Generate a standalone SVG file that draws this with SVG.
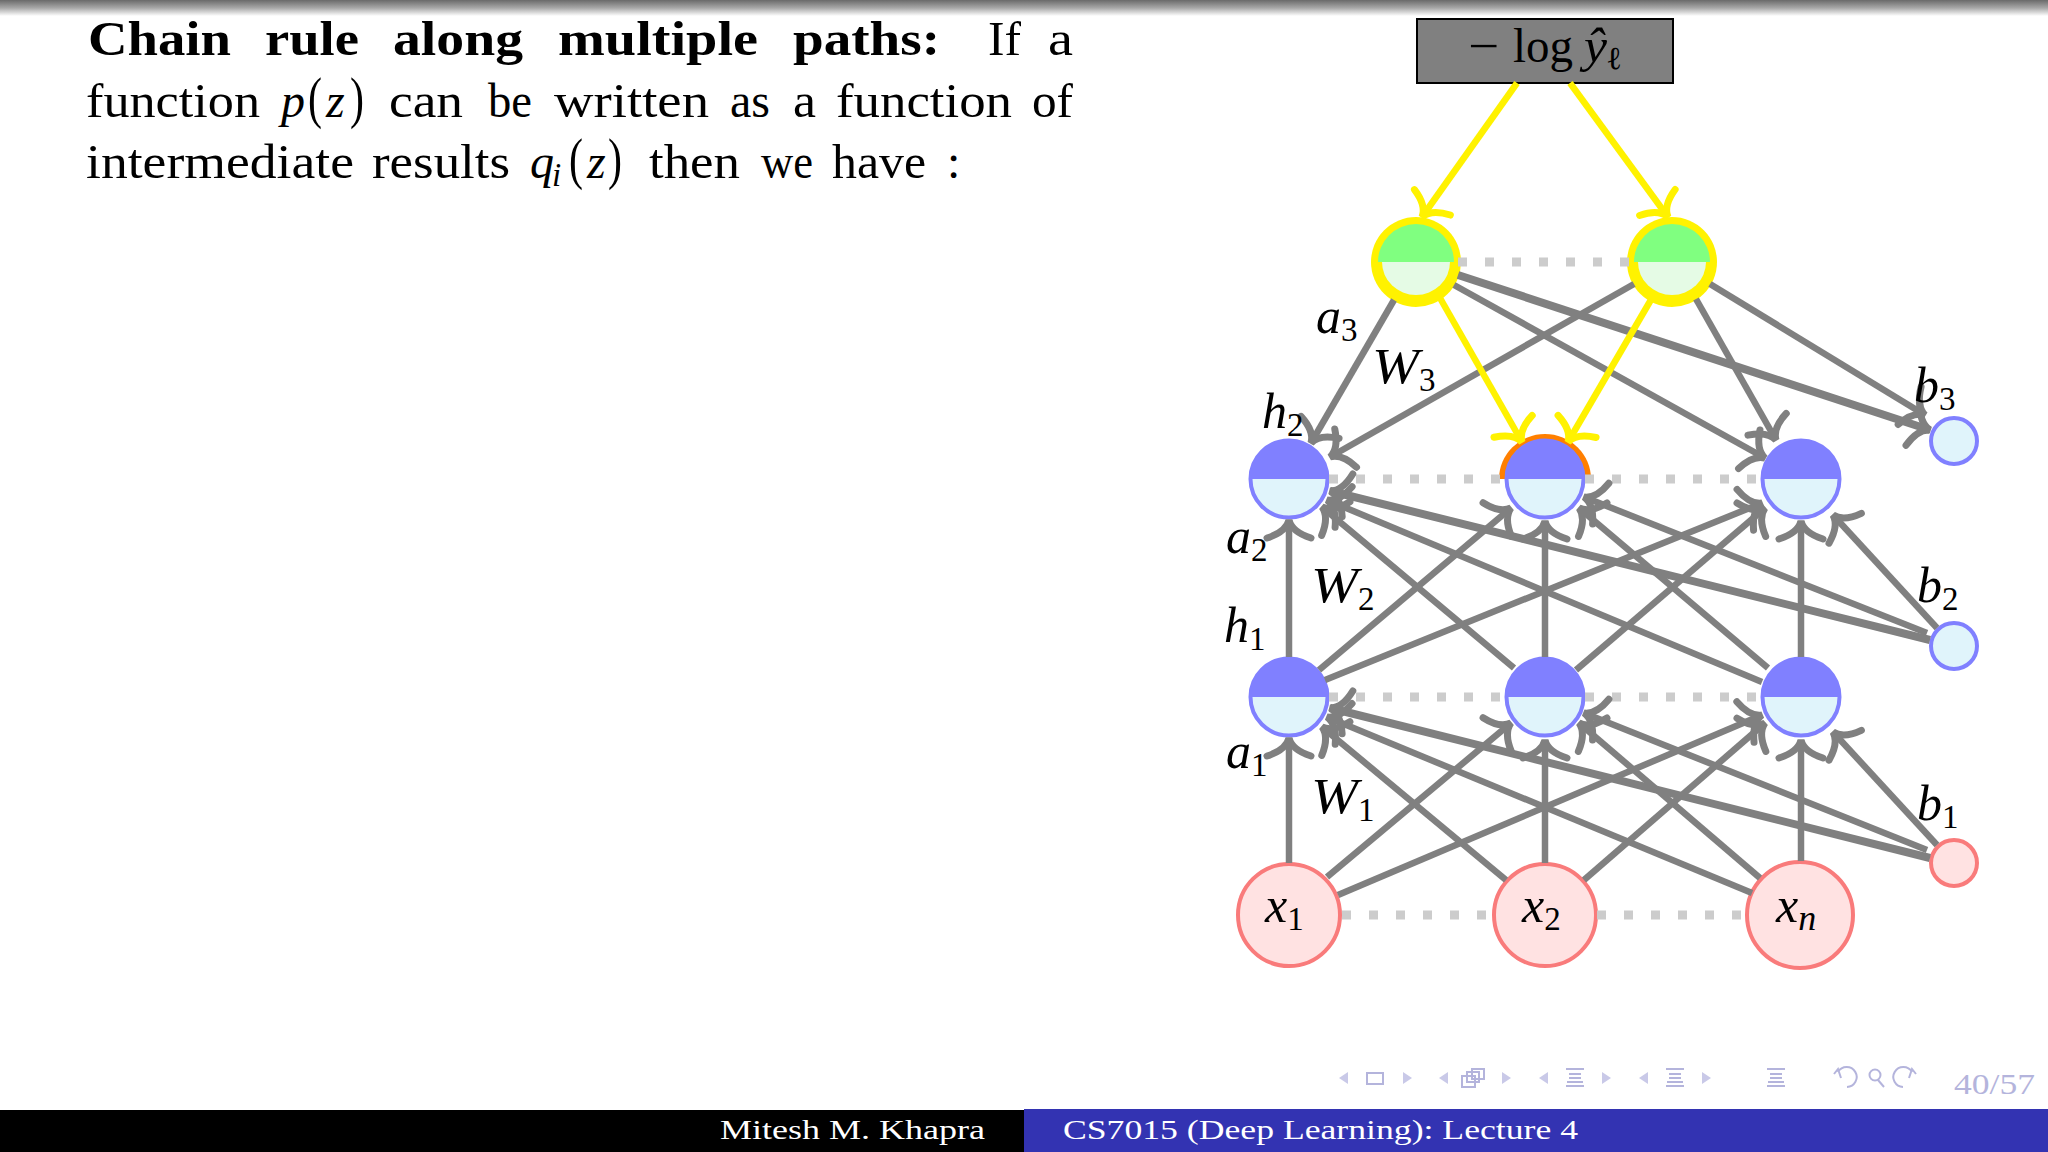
<svg xmlns="http://www.w3.org/2000/svg" width="2048" height="1152" viewBox="0 0 2048 1152">
<style>
text{font-family:"Liberation Serif","Times New Roman",serif;fill:#000}
.body{font-size:48px}
.m{font-style:italic}
.pr{font-size:56px;font-style:normal}
.lab{font-size:50px;font-style:italic}
.sub{font-size:33px;font-style:normal}
.subi{font-size:36px;font-style:italic}
.e{fill:none;stroke:#808080;stroke-width:6.5;marker-end:url(#ag)}
.t{stroke-width:8}
.y{fill:none;stroke:#fff200;stroke-width:6.5;marker-end:url(#ay)}
.d{fill:none;stroke:#cccccc;stroke-width:9;stroke-dasharray:9 18}
.hT{fill:#8080ff}.hB{fill:#e0f4fb}.hS{fill:none;stroke:#8080ff;stroke-width:4}
.pk{fill:#ffe2e2;stroke:#f97b7b;stroke-width:4}
.nv{fill:#c9c9e8}.nl{fill:none;stroke:#b4b4dc;stroke-width:2}.nb{fill:#b4b4dc}
.ft{font-size:27px;fill:#fff}
</style>
<defs>
<linearGradient id="top" x1="0" y1="0" x2="0" y2="1"><stop offset="0" stop-color="#6a6a6a"/><stop offset="0.5" stop-color="#a8a8a8"/><stop offset="1" stop-color="#ffffff"/></linearGradient>
<marker id="ag" markerUnits="userSpaceOnUse" markerWidth="60" markerHeight="60" viewBox="-40 -30 60 60" refX="0" refY="0" orient="auto"><path d="M-18,-22 Q-12,-3 0,0 Q-12,3 -18,22" fill="none" stroke="#808080" stroke-width="7" stroke-linecap="round"/></marker>
<marker id="ay" markerUnits="userSpaceOnUse" markerWidth="60" markerHeight="60" viewBox="-40 -30 60 60" refX="0" refY="0" orient="auto"><path d="M-18,-22 Q-12,-3 0,0 Q-12,3 -18,22" fill="none" stroke="#fff200" stroke-width="7" stroke-linecap="round"/></marker>
<g id="hn"><path class="hT" d="M-39,0 A39,39 0 0 1 39,0 Z"/><path class="hB" d="M-39,0 A39,39 0 0 0 39,0 Z"/><circle class="hS" r="38.5"/></g>
<g id="gn"><circle r="45" fill="#fff200"/><path d="M-38,0 A38,38 0 0 1 38,0 Z" fill="#80ff80"/><path d="M-34,0 A34,33 0 0 0 34,0 Z" fill="#e5fbe5"/></g>
<path id="tl" class="nv" d="M9,-6 L0,0 L9,6 Z"/>
<path id="tr" class="nv" d="M0,-6 L9,0 L0,6 Z"/>
<g id="ls"><path class="nb" d="M0,0h18v2h-18zM3,5h12v2h-12zM3,9h12v2h-12zM1,13h16v2h-16zM0,17h18v2h-18z"/></g>
</defs>
<rect width="2048" height="1152" fill="#fff"/>
<rect width="2048" height="16" fill="url(#top)"/>

<g id="slide-text">
<text class="body" y="55" font-weight="bold"><tspan x="88" textLength="143" lengthAdjust="spacingAndGlyphs">Chain</tspan> <tspan x="265" textLength="94" lengthAdjust="spacingAndGlyphs">rule</tspan> <tspan x="393" textLength="130" lengthAdjust="spacingAndGlyphs">along</tspan> <tspan x="558" textLength="200" lengthAdjust="spacingAndGlyphs">multiple</tspan> <tspan x="793" textLength="147" lengthAdjust="spacingAndGlyphs">paths:</tspan> <tspan x="988" font-weight="normal" textLength="33" lengthAdjust="spacingAndGlyphs">If</tspan> <tspan x="1048" font-weight="normal" textLength="25" lengthAdjust="spacingAndGlyphs">a</tspan></text>
<text class="body" y="117"><tspan x="86" textLength="174" lengthAdjust="spacingAndGlyphs">function</tspan> <tspan x="281" class="m">p</tspan><tspan x="308" class="pr" textLength="14" lengthAdjust="spacingAndGlyphs">(</tspan><tspan x="326" class="m">z</tspan><tspan x="350" class="pr" textLength="14" lengthAdjust="spacingAndGlyphs">)</tspan> <tspan x="389" textLength="74" lengthAdjust="spacingAndGlyphs">can</tspan> <tspan x="488" textLength="44" lengthAdjust="spacingAndGlyphs">be</tspan> <tspan x="554" textLength="155" lengthAdjust="spacingAndGlyphs">written</tspan> <tspan x="730" textLength="40" lengthAdjust="spacingAndGlyphs">as</tspan> <tspan x="793" textLength="23" lengthAdjust="spacingAndGlyphs">a</tspan> <tspan x="836" textLength="176" lengthAdjust="spacingAndGlyphs">function</tspan> <tspan x="1032" textLength="41" lengthAdjust="spacingAndGlyphs">of</tspan></text>
<text class="body" y="178"><tspan x="86" textLength="268" lengthAdjust="spacingAndGlyphs">intermediate</tspan> <tspan x="372" textLength="138" lengthAdjust="spacingAndGlyphs">results</tspan> <tspan x="530" class="m">q</tspan><tspan x="552" y="186" class="m" font-size="33">i</tspan><tspan x="569" y="178" class="pr" textLength="14" lengthAdjust="spacingAndGlyphs">(</tspan><tspan x="587" class="m">z</tspan><tspan x="608" class="pr" textLength="14" lengthAdjust="spacingAndGlyphs">)</tspan> <tspan x="649" textLength="91" lengthAdjust="spacingAndGlyphs">then</tspan> <tspan x="761" textLength="52" lengthAdjust="spacingAndGlyphs">we</tspan> <tspan x="832" textLength="94" lengthAdjust="spacingAndGlyphs">have</tspan> <tspan x="947">:</tspan></text>
</g>

<g id="nodes">
<g id="loss"><rect x="1417" y="19" width="256" height="64" fill="#808080" stroke="#000" stroke-width="2"/><text class="body" y="62"><tspan x="1468" textLength="31" lengthAdjust="spacingAndGlyphs">−</tspan> <tspan x="1513" textLength="60" lengthAdjust="spacingAndGlyphs">log</tspan> <tspan x="1584" class="m" textLength="23" lengthAdjust="spacingAndGlyphs">ŷ</tspan><tspan x="1606" y="69" font-size="32" font-family="'DejaVu Serif',serif" textLength="16" lengthAdjust="spacingAndGlyphs">ℓ</tspan></text></g>
<g id="o1"><use href="#gn" x="1416" y="262"/></g>
<g id="o2"><use href="#gn" x="1672" y="262"/></g>
<g id="h2a"><use href="#hn" x="1289" y="479"/></g>
<g id="h2b"><path d="M1499,479 A46,45 0 0 1 1591,479 Z" fill="#ff7f00"/><use href="#hn" x="1545" y="479"/></g>
<g id="h2c"><use href="#hn" x="1801" y="479"/></g>
<g id="h1a"><use href="#hn" x="1289" y="697"/></g>
<g id="h1b"><use href="#hn" x="1545" y="697"/></g>
<g id="h1c"><use href="#hn" x="1801" y="697"/></g>
<g id="b3"><circle class="hB" cx="1954" cy="441" r="23"/><circle class="hS" cx="1954" cy="441" r="23"/></g>
<g id="b2"><circle class="hB" cx="1954" cy="646" r="23"/><circle class="hS" cx="1954" cy="646" r="23"/></g>
<g id="b1"><circle class="pk" cx="1954" cy="863" r="23"/></g>
<g id="x1"><circle class="pk" cx="1289" cy="915" r="51"/></g>
<g id="x2"><circle class="pk" cx="1545" cy="915" r="51"/></g>
<g id="xn"><circle class="pk" cx="1800" cy="915" r="53"/></g>
</g>

<g id="connectors">
<path class="d" d="M1329,479H1505M1585,479H1761"/>
<path class="d" d="M1329,697H1505M1585,697H1761"/>
<path class="d" d="M1342,915H1490M1597,915H1745"/>
<path class="d" d="M1458,262H1630"/>

<path class="e" d="M1289,863V738"/>
<path class="e" d="M1327,877L1511,723"/>
<path class="e" d="M1338,895L1762,715"/>
<path class="e" d="M1506,880L1322,727"/>
<path class="e" d="M1545,863V740"/>
<path class="e" d="M1584,880L1765,723"/>
<path class="e" d="M1752,893L1327,717"/>
<path class="e" d="M1760,878L1579,723"/>
<path class="e" d="M1801,861V740"/>
<path class="e t" d="M1930,858L1330,708"/>
<path class="e" d="M1927,850L1584,713"/>
<path class="e" d="M1937,845L1833,732"/>

<path class="e" d="M1289,657V520"/>
<path class="e" d="M1319,670L1511,508"/>
<path class="e" d="M1325,680L1762,503"/>
<path class="e" d="M1514,668L1322,507"/>
<path class="e" d="M1545,657V521"/>
<path class="e" d="M1576,670L1765,508"/>
<path class="e" d="M1762,682L1327,500"/>
<path class="e" d="M1768,668L1579,508"/>
<path class="e" d="M1801,657V521"/>
<path class="e t" d="M1930,640L1330,491"/>
<path class="e" d="M1927,633L1584,497"/>
<path class="e" d="M1937,628L1833,515"/>

<path class="e" d="M1394,300L1311,443"/>
<path class="e" d="M1454,285L1765,458"/>
<path class="e t" d="M1458,275L1930,430"/>
<path class="e" d="M1634,284L1330,457"/>
<path class="e" d="M1696,299L1776,440"/>
<path class="e" d="M1710,284L1925,415"/>

<path class="y" d="M1517,83L1422,217"/>
<path class="y" d="M1570,83L1668,217"/>
<path class="y" d="M1440,298L1522,442"/>
<path class="y" d="M1652,298L1568,442"/>
</g>

<g id="labels">
<text class="lab" x="1316" y="333">a<tspan class="sub" dy="8">3</tspan></text>
<text class="lab" x="1372" y="383"><tspan textLength="47" lengthAdjust="spacingAndGlyphs">W</tspan><tspan class="sub" dy="8">3</tspan></text>
<text class="lab" x="1262" y="428">h<tspan class="sub" dy="8">2</tspan></text>
<text class="lab" x="1914" y="402">b<tspan class="sub" dy="8">3</tspan></text>
<text class="lab" x="1226" y="553">a<tspan class="sub" dy="8">2</tspan></text>
<text class="lab" x="1311" y="602"><tspan textLength="47" lengthAdjust="spacingAndGlyphs">W</tspan><tspan class="sub" dy="8">2</tspan></text>
<text class="lab" x="1224" y="642">h<tspan class="sub" dy="8">1</tspan></text>
<text class="lab" x="1917" y="602">b<tspan class="sub" dy="8">2</tspan></text>
<text class="lab" x="1226" y="768">a<tspan class="sub" dy="8">1</tspan></text>
<text class="lab" x="1311" y="813"><tspan textLength="47" lengthAdjust="spacingAndGlyphs">W</tspan><tspan class="sub" dy="8">1</tspan></text>
<text class="lab" x="1917" y="820">b<tspan class="sub" dy="8">1</tspan></text>
<text class="lab" x="1265" y="922">x<tspan class="sub" dy="8">1</tspan></text>
<text class="lab" x="1522" y="922">x<tspan class="sub" dy="8">2</tspan></text>
<text class="lab" x="1776" y="922">x<tspan class="subi" dy="8">n</tspan></text>
</g>

<g id="nav">
<use href="#tl" x="1339" y="1078"/><rect class="nl" x="1367" y="1073" width="16" height="11"/><use href="#tr" x="1403" y="1078"/>
<use href="#tl" x="1439" y="1078"/><rect class="nl" x="1472" y="1069" width="12" height="10"/><rect class="nl" x="1467" y="1072" width="12" height="10" fill="#fff"/><rect class="nl" x="1462" y="1076" width="13" height="11" fill="#fff"/><use href="#tr" x="1502" y="1078"/>
<use href="#tl" x="1539" y="1078"/><use href="#ls" x="1566" y="1068"/><use href="#tr" x="1602" y="1078"/>
<use href="#tl" x="1639" y="1078"/><use href="#ls" x="1666" y="1068"/><use href="#tr" x="1702" y="1078"/>
<use href="#ls" x="1767" y="1068"/>
<path class="nl" d="M1838,1072 A10,10 0 1 1 1847,1087M1834,1074 L1838,1069 L1841,1078"/>
<circle class="nl" cx="1875" cy="1075" r="5.5"/><path class="nl" d="M1878,1080 L1884,1087"/>
<path class="nl" d="M1912,1072 A10,10 0 1 0 1903,1087M1916,1074 L1912,1069 L1909,1078"/>
<text x="1954" y="1094" font-size="29" style="fill:#b4b4dc" textLength="81" lengthAdjust="spacingAndGlyphs">40/57</text>
</g>

<g id="footer">
<rect x="0" y="1110" width="1024" height="42" fill="#000"/>
<rect x="1024" y="1109" width="1024" height="43" fill="#3333b2"/>
<text class="ft" x="720" y="1139" textLength="265" lengthAdjust="spacingAndGlyphs">Mitesh M. Khapra</text>
<text class="ft" x="1063" y="1139" textLength="515" lengthAdjust="spacingAndGlyphs">CS7015 (Deep Learning): Lecture 4</text>
</g>
</svg>
